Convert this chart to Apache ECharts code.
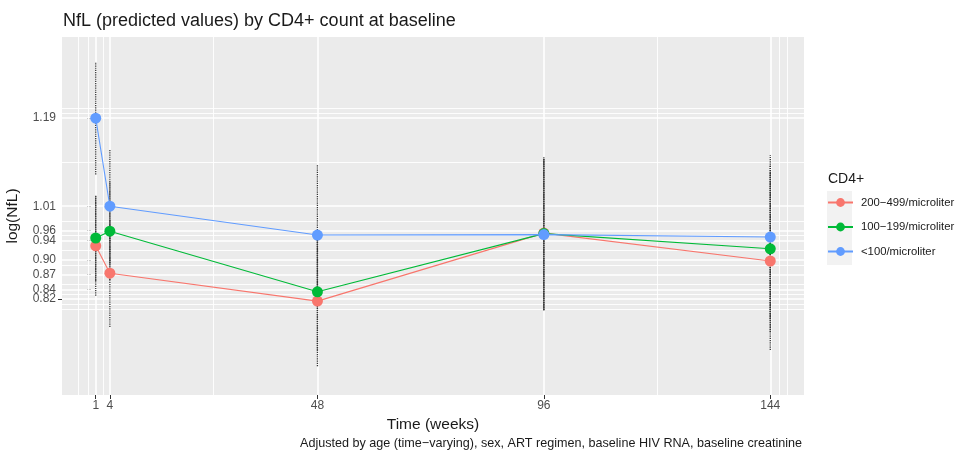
<!DOCTYPE html>
<html>
<head>
<meta charset="utf-8">
<script src="https://cdn.jsdelivr.net/npm/echarts@6/dist/echarts.min.js"></script>
<style>
  html, body { margin: 0; padding: 0; background: #fff; }
  #chart { width: 965px; height: 452px; }
</style>
</head>
<body>
<div id="chart"></div>
<script>
// weeks on the x axis
const weeks = [1, 4, 48, 96, 144];
const groupNames = ['200\u2212499/microliter', '100\u2212199/microliter', '<100/microliter'];
const groupColors = ['#F8766D', '#00BA38', '#619CFF'];

// predicted log(NfL) per group
const nfl200 = [0.929, 0.873, 0.816, 0.955, 0.898];
const nfl100 = [0.945, 0.959, 0.835, 0.954, 0.923];
const nflLow = [1.19, 1.01, 0.951, 0.952, 0.947];

// interval bounds per group
const lo200 = [0.827, 0.763, 0.683, 0.798, 0.716];
const hi200 = [1.031, 0.983, 0.949, 1.110, 1.080];
const lo100 = [0.857, 0.859, 0.715, 0.799, 0.753];
const hi100 = [1.033, 1.059, 0.955, 1.108, 1.093];
const loLow = [1.075, 0.893, 0.808, 0.797, 0.780];
const hiLow = [1.305, 1.127, 1.094, 1.107, 1.114];

// tick labels
const xTicks = [1, 4, 48, 96, 144];
const yTicks = [0.84, 0.87, 0.90, 0.94, 0.96, 1.01, 1.19];
const yTicksLow = [0.82];
// extra (minor) panel grid lines
const xMinor = [-2.7, -0.5, 2.5, 26, 120, 146, 147.5];
const yMinor = [0.80, 0.81, 0.83, 0.855, 0.885, 0.92, 0.95, 0.985, 1.10, 1.20, 1.208];

const chart = echarts.init(document.getElementById('chart'));

const values = [nfl200, nfl100, nflLow];
const lows = [lo200, lo100, loLow];
const highs = [hi200, hi100, hiLow];

function barData(k) {
  return weeks.map((w, i) => [w, lows[k][i], highs[k][i]]);
}

function renderBar(params, api) {
  const x = api.value(0);
  const p1 = api.coord([x, api.value(1)]);
  const p2 = api.coord([x, api.value(2)]);
  return {
    type: 'line',
    shape: { x1: p1[0], y1: p1[1], x2: p2[0], y2: p2[1] },
    style: { stroke: '#333', lineWidth: 1.3, lineDash: [1.2, 1] }
  };
}

const gridLines = [];
xTicks.forEach(v => gridLines.push({ xAxis: v, lineStyle: { width: 1.6 } }));
xMinor.forEach(v => gridLines.push({ xAxis: v, lineStyle: { width: 0.9 } }));
yTicks.concat(yTicksLow).forEach(v => gridLines.push({ yAxis: v, lineStyle: { width: 1.6 } }));
yMinor.forEach(v => gridLines.push({ yAxis: v, lineStyle: { width: 0.9 } }));

const series = [
  {
    name: 'grid',
    type: 'line',
    data: [],
    silent: true,
    z: 1,
    markLine: {
      silent: true,
      z: 1,
      symbol: 'none',
      label: { show: false },
      animation: false,
      lineStyle: { color: '#ffffff', type: 'solid' },
      data: gridLines
    }
  }
];

[0, 1, 2].forEach(k => {
  series.push({
    name: 'bar' + k,
    type: 'custom',
    renderItem: renderBar,
    data: barData(k),
    z: 2,
    silent: true
  });
});

[0, 1, 2].forEach(k => {
  series.push({
    name: groupNames[k],
    type: 'line',
    data: weeks.map((w, i) => [w, values[k][i]]),
    symbol: 'circle',
    symbolSize: 11,
    itemStyle: { color: groupColors[k] },
    lineStyle: { color: groupColors[k], width: 1.1 },
    z: 3 + k
  });
});

const yCommon = {
  type: 'value',
  min: 0.624,
  max: 1.356,
  splitLine: { show: false },
  axisLine: { show: false }
};

const option = {
  animation: false,
  backgroundColor: '#ffffff',
  textStyle: { fontFamily: 'Liberation Sans' },
  title: [
    {
      text: 'NfL (predicted values) by CD4+ count at baseline',
      left: 58, top: 7,
      textStyle: { fontSize: 18, fontWeight: 'normal', color: '#1a1a1a' }
    },
    {
      text: 'CD4+',
      left: 823, top: 167,
      textStyle: { fontSize: 14, fontWeight: 'normal', color: '#1a1a1a' }
    },
    {
      text: 'Adjusted by age (time\u2212varying), sex, ART regimen, baseline HIV RNA, baseline creatinine',
      right: 158, top: 432,
      textStyle: { fontSize: 12.6, fontWeight: 'normal', color: '#1a1a1a' }
    }
  ],
  graphic: [
    { type: 'rect', left: 827, top: 191, shape: { width: 25, height: 74 }, style: { fill: '#F2F2F2' }, z: -1 }
  ],
  legend: {
    data: groupNames,
    orient: 'vertical',
    left: 827,
    top: 197,
    padding: 0,
    itemWidth: 25,
    itemHeight: 11,
    itemGap: 13.5,
    textStyle: { fontSize: 11.3, color: '#1a1a1a', padding: [0, 0, 0, 3] }
  },
  grid: {
    left: 62, right: 161, top: 37, bottom: 57,
    outerBoundsMode: 'none',
    containLabel: false,
    show: true,
    backgroundColor: '#EBEBEB',
    borderWidth: 0
  },
  xAxis: {
    type: 'value',
    min: -6.15,
    max: 151.15,
    name: 'Time (weeks)',
    nameLocation: 'middle',
    nameGap: 21,
    nameTextStyle: { fontSize: 15.5, color: '#1a1a1a' },
    splitLine: { show: false },
    axisLine: { show: false },
    axisTick: { show: true, customValues: xTicks, length: 4, lineStyle: { color: '#333' } },
    axisLabel: { customValues: xTicks, fontSize: 12, color: '#4d4d4d', margin: 5, hideOverlap: false }
  },
  yAxis: [
    Object.assign({}, yCommon, {
      name: 'log(NfL)',
      nameLocation: 'middle',
      nameGap: 41,
      nameRotate: 90,
      nameTextStyle: { fontSize: 15.5, color: '#1a1a1a' },
      axisTick: { show: true, customValues: yTicks, length: 4, lineStyle: { color: '#333' } },
      axisLabel: {
        customValues: yTicks, fontSize: 12, color: '#4d4d4d', margin: 6,
        hideOverlap: false, formatter: v => v.toFixed(2)
      }
    }),
    Object.assign({}, yCommon, {
      position: 'left',
      axisTick: { show: true, customValues: yTicksLow, length: 4, lineStyle: { color: '#333' } },
      axisLabel: {
        customValues: yTicksLow, fontSize: 12, color: '#4d4d4d', margin: 6,
        hideOverlap: false, formatter: v => v.toFixed(2)
      }
    })
  ],
  series: series
};

chart.setOption(option);
</script>
</body>
</html>
